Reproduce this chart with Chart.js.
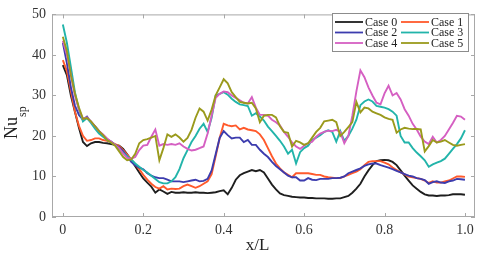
<!DOCTYPE html>
<html>
<head>
<meta charset="utf-8">
<script src="https://cdn.jsdelivr.net/npm/chart.js@4.4.1/dist/chart.umd.min.js"></script>
<style>
  html, body { margin: 0; padding: 0; background: #fff; }
  #wrap { width: 480px; height: 256px; }
</style>
</head>
<body>
<div id="wrap"><canvas id="myChart" width="480" height="256"></canvas></div>
<script>
// x/L positions
const xPos = [0,0.01,0.02,0.03,0.04,0.05,0.06,0.07,0.08,0.09,
  0.1,0.11,0.12,0.13,0.14,0.15,0.16,0.17,0.18,0.19,
  0.2,0.21,0.22,0.23,0.24,0.25,0.26,0.27,0.28,0.29,
  0.3,0.31,0.32,0.33,0.34,0.35,0.36,0.37,0.38,0.39,
  0.4,0.41,0.42,0.43,0.44,0.45,0.46,0.47,0.48,0.49,
  0.5,0.51,0.52,0.53,0.54,0.55,0.56,0.57,0.58,0.59,
  0.6,0.61,0.62,0.63,0.64,0.65,0.66,0.67,0.68,0.69,
  0.7,0.71,0.72,0.73,0.74,0.75,0.76,0.77,0.78,0.79,
  0.8,0.81,0.82,0.83,0.84,0.85,0.86,0.87,0.88,0.89,
  0.9,0.91,0.92,0.93,0.94,0.95,0.96,0.97,0.98,0.99,1];

const case0 = [37.5,35,30,26,22,18.5,17.5,18.2,18.5,18.5,
  18.3,18.2,18,17.8,17.6,16.8,15.5,14,12.5,11,
  9.5,8.5,7.5,6,6.8,6.3,5.7,6.2,6,6,
  6.1,6,6,6.1,6,6,5.9,6,6.1,6.4,
  6.6,5.6,7.2,9.2,10.3,10.8,11.2,11.6,11.3,11.6,
  11,9.5,8,6.8,5.8,5.4,5.2,5,4.9,4.8,
  4.8,4.7,4.7,4.6,4.6,4.6,4.5,4.5,4.6,4.6,
  4.9,5.2,6,7,8.2,10,11.5,12.8,13.8,14,
  14.1,14,13.6,12.8,11.5,10.2,9,7.8,7,6.2,
  5.6,5.3,5.3,5.2,5.3,5.3,5.4,5.6,5.6,5.6,5.5];

const case1 = [38.7,36,31,26,22.5,20,18.8,19,19.4,19.4,
  19,18.8,18.5,18,17.5,16.5,15.4,14.2,13,11.8,
  10.4,9.2,8.2,7.4,7,7.6,6.8,7,6.9,7,
  7.6,8,7.6,7.2,7.6,8.2,8.8,10.6,15,19.5,
  23,22.6,22.4,22.6,21.6,22,21.6,21.4,21.2,20.4,
  19,17,15,13.2,12,11,10.4,9.8,10.8,10.8,
  10.8,10.8,10.6,10.4,10.4,10,9.8,9.7,9.6,9.6,
  10,10.4,10.8,11.2,11.8,12.8,13.6,13.8,13.8,13.8,
  13.4,13,12.2,11.6,11,10.5,10,9.8,9.6,9.4,
  9,8.4,8.8,8.5,8.5,8.8,9,9.5,10,10,9.9];

const case2 = [43,38,32,27.5,25.2,24,24.8,23.4,22.4,21.2,
  20.2,19.2,18.6,17.8,17.2,16.2,15,13.6,12.8,12.2,
  11.8,10.8,10.2,9.8,9.6,9.6,9.2,8.8,8.8,8.8,
  8.6,8.8,9,9.2,8.8,8.9,9.4,11.5,15.5,19.5,
  21.2,20.2,19.4,19.6,19.6,18.5,19,17.8,17.8,16.6,
  15.6,14.8,13.6,12.6,11.8,11,10.2,9.8,9.8,9,
  9,9.6,9.2,9.1,9.4,9.4,9.4,9.6,9.6,9.7,
  10,10.8,11.2,11.6,12,12.6,13,13.2,13.2,12.8,
  12.5,12.2,11.8,11.4,11,10.6,10.2,10,9.6,9.4,
  9.1,8.2,8.6,8.8,8.5,8.4,8.8,9,9.4,9.3,9.2];

const case3 = [47.5,43,37,30.8,26.5,23.6,24.4,23.2,21.8,20.6,
  19.8,19,18.4,17.8,16.8,15.8,15,14.2,13.2,12.4,
  11.6,11,10.2,9.4,8.6,8.3,8.3,8.8,9.8,11.8,
  14.5,16.5,18.5,20,21.8,23,21,24.5,30,30.4,
  30.8,30.2,29.2,28.4,27.8,27.6,27.4,25,25.6,24.8,
  23.8,22.3,21.2,20,18.8,17.4,15.6,16.6,13.2,16,
  17,17.6,19,19.6,20.2,21,21.4,21,18.6,21.2,
  18.8,20,21.8,24,27.6,28.5,29,28.5,27.4,27.2,
  27,26.6,26,25,20,18.4,18.4,17,15.9,15,
  14,12.4,13,13.4,13.8,14.4,15.6,16.8,18,19.4,21.4];

const case4 = [43.5,40,35,30,26.5,24.2,24.6,23.6,22.4,21.2,
  20.4,19.4,18.6,17.8,17,15.6,14.6,14.4,14.8,16.5,
  17.6,17.8,19.8,21.6,17.6,18,17.8,18,17.8,18.2,
  17.4,16.8,16.4,16.6,17,17.4,20.6,25,29.4,30.4,
  31,30.8,30,29.4,28.8,28.2,28,29.6,27,25.2,
  25.2,25,24,23.4,22.6,21,19.8,18.4,17.4,16.8,
  17.6,18.2,18.6,19.8,20.6,21,21.3,21.2,21.5,21,
  18.2,20,25,31,36.2,34.5,32,30,28.2,27.8,
  30.5,32.4,30,30.6,29,26.6,25,23,21.6,19.8,
  18.6,18,19.8,18.4,19,20,21.6,23.2,25,24.8,24];

const case5 = [44.5,41,35,30.5,27,24.2,24.4,23.6,22.4,21.2,
  20.2,19,18.4,17.6,16.2,14.8,14,14.2,15.6,18.2,
  19,19.2,19.6,20,14,17,20.4,19.8,20.4,19.6,
  18.6,19.5,21.5,24.5,26.8,26,23.8,26.5,30,32,
  34,33,30.8,29.6,28.4,28.2,28,28.2,26.8,23.4,
  25,25.2,25.2,24.6,22.4,21,20.8,17.4,18.8,18.4,
  17.8,18.2,19.6,21,22,23.6,23.8,24,23.4,20,
  21,22.2,23.4,28.4,25.8,27,26.8,26,25.6,25.2,
  24.6,24.2,24,20.8,21.6,22,21.8,21.7,21.7,21.6,
  16.2,17.5,19,18.4,18.6,19,18.4,17.8,17.6,17.8,18];

const caseNames = ['Case 0', 'Case 1', 'Case 2', 'Case 3', 'Case 4', 'Case 5'];
const caseValues = [case0, case1, case2, case3, case4, case5];
const caseColors = ['#1e1e1e', '#ff5a2c', '#3c3cae', '#22b4aa', '#d55fc2', '#9a9a1c'];
const xTicks = [0, 0.2, 0.4, 0.6, 0.8, 1];
const yTicks = [0, 10, 20, 30, 40, 50];

const serif = "'Liberation Serif', 'Times New Roman', serif";
const frameColor = '#a8a8a8';
const textColor = '#333333';

const datasets = caseValues.map(function (vals, i) {
  return {
    label: caseNames[i],
    data: vals.map(function (v, j) { return { x: xPos[j], y: v }; }),
    borderColor: caseColors[i],
    backgroundColor: caseColors[i],
    borderWidth: 1.9,
    pointRadius: 0,
    tension: 0,
    fill: false,
    order: 5 - i
  };
});

// box, inward ticks, axis titles and the 2-column legend
const decorations = {
  id: 'decorations',
  afterDraw(chart) {
    const ctx = chart.ctx;
    const a = chart.chartArea;
    const sx = chart.scales.x, sy = chart.scales.y;
    ctx.save();
    ctx.strokeStyle = frameColor;
    ctx.lineWidth = 1;
    ctx.strokeRect(a.left + 0.5, a.top + 0.5, a.right - a.left - 1, a.bottom - a.top - 1);
    ctx.beginPath();
    xTicks.forEach(function (t) {
      const px = Math.round(sx.getPixelForValue(t)) + 0.5;
      ctx.moveTo(px, a.bottom); ctx.lineTo(px, a.bottom - 4);
      ctx.moveTo(px, a.top); ctx.lineTo(px, a.top + 4);
    });
    yTicks.forEach(function (t) {
      const py = Math.round(sy.getPixelForValue(t)) + 0.5;
      ctx.moveTo(a.left, py); ctx.lineTo(a.left + 4, py);
      ctx.moveTo(a.right, py); ctx.lineTo(a.right - 4, py);
    });
    ctx.stroke();

    // x title
    ctx.fillStyle = '#222';
    ctx.font = '17px ' + serif;
    ctx.textAlign = 'center';
    ctx.textBaseline = 'middle';
    ctx.fillText('x/L', (a.left + a.right) / 2 - 6, 246);

    // y title Nu_sp
    ctx.save();
    ctx.translate(12, 128);
    ctx.rotate(-Math.PI / 2);
    ctx.font = '18px ' + serif;
    ctx.textAlign = 'center';
    ctx.fillText('Nu', 0, 0);
    ctx.font = '12px ' + serif;
    ctx.textAlign = 'left';
    ctx.fillText('sp', 11, 11);
    ctx.restore();

    // legend
    const lx = 332, ly = 13, lw = 136, lh = 38;
    ctx.fillStyle = '#fff';
    ctx.fillRect(lx, ly, lw, lh);
    ctx.strokeStyle = '#8c8c8c';
    ctx.lineWidth = 1;
    ctx.strokeRect(lx + 0.5, ly + 0.5, lw, lh);
    ctx.font = '12px ' + serif;
    ctx.textAlign = 'left';
    ctx.textBaseline = 'middle';
    caseNames.forEach(function (name, i) {
      const col = i % 2, row = Math.floor(i / 2);
      const x0 = lx + 3 + col * 66;
      const y0 = ly + 9 + row * 10.5;
      ctx.strokeStyle = caseColors[i];
      ctx.lineWidth = 1.8;
      ctx.beginPath();
      ctx.moveTo(x0, y0); ctx.lineTo(x0 + 28, y0);
      ctx.stroke();
      ctx.fillStyle = '#222';
      ctx.fillText(name, x0 + 30, y0 + 0.5);
    });
    ctx.restore();
  }
};

new Chart(document.getElementById('myChart').getContext('2d'), {
  type: 'line',
  data: { datasets: datasets },
  options: {
    responsive: false,
    animation: false,
    layout: { padding: { left: 0, top: 8, right: 5, bottom: 0 } },
    plugins: { legend: { display: false }, tooltip: { enabled: false } },
    scales: {
      x: {
        type: 'linear',
        min: -0.027,
        max: 1.025,
        afterBuildTicks: function (s) { s.ticks = xTicks.map(function (v) { return { value: v }; }); },
        afterFit: function (s) { s.height = 39; },
        grid: { display: false, drawTicks: false },
        border: { display: false },
        ticks: { color: textColor, font: { family: serif, size: 14 }, padding: 5, maxRotation: 0 }
      },
      y: {
        min: 0,
        max: 50,
        afterBuildTicks: function (s) { s.ticks = yTicks.map(function (v) { return { value: v }; }); },
        afterFit: function (s) { s.width = 52; },
        grid: { display: false, drawTicks: false },
        border: { display: false },
        ticks: { color: textColor, font: { family: serif, size: 14 }, padding: 6 }
      }
    }
  },
  plugins: [decorations]
});
</script>
</body>
</html>
